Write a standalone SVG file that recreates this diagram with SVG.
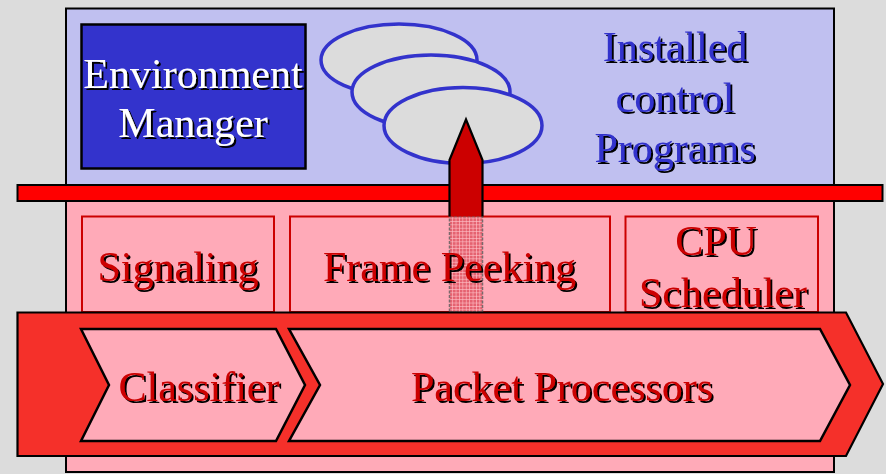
<svg xmlns="http://www.w3.org/2000/svg" width="886" height="474" viewBox="0 0 886 474">
  <style>
    .lbl { font-size: 42px; text-anchor: middle; filter: url(#shadow); }
    .white { fill: #ffffff; }
    .blue { fill: #3333cc; }
    .red { fill: #cc0000; }
    .panel { stroke: #000; stroke-width: 2; }
    .module { fill: #ffaab8; stroke: #cc0000; stroke-width: 2; }
    .stage { fill: #ffaab8; stroke: #000; stroke-width: 2.5; stroke-linejoin: miter; }
    .prog { fill: #dcdcdc; stroke: #3333cc; stroke-width: 3.5; }
  </style>
  <defs>
    <!-- hard black drop shadow behind lettering -->
    <filter id="shadow" x="-10%" y="-20%" width="120%" height="140%">
      <feOffset in="SourceAlpha" dx="1.8" dy="1.8" result="off"/>
      <feFlood flood-color="#000"/>
      <feComposite in2="off" operator="in" result="sh"/>
      <feMerge>
        <feMergeNode in="sh"/>
        <feMergeNode in="SourceGraphic"/>
      </feMerge>
    </filter>
    <pattern id="grid" width="3.4" height="3.4" patternUnits="userSpaceOnUse">
      <rect width="3.4" height="3.4" fill="#e05563"/>
      <path d="M0 0.3H3.4M0.3 0V3.4" stroke="#ffc6cc" stroke-width="0.7"/>
    </pattern>
  </defs>

  <!-- backdrop -->
  <rect width="886" height="474" fill="#dcdcdc"/>

  <!-- control layer -->
  <g id="control-layer">
    <rect x="66" y="8.5" width="768" height="177" fill="#c0c0f0" class="panel"/>
  </g>

  <!-- data layer -->
  <g id="data-layer">
    <rect x="66" y="200" width="768" height="272" fill="#ffaab8" class="panel"/>
  </g>

  <!-- interface bar between layers -->
  <g id="interface-bar">
    <rect x="17.5" y="185" width="865" height="16" fill="#ff0000" stroke="#000" stroke-width="2"/>
  </g>

  <!-- environment manager -->
  <g id="environment-manager">
    <rect x="81.5" y="24.5" width="224" height="144" fill="#3333cc" stroke="#000" stroke-width="2.5"/>
    <text class="lbl white" x="193" y="88" style="font-family: 'Liberation Serif', serif">Environment</text>
    <text class="lbl white" x="193" y="137" style="font-family: 'Liberation Serif', serif">Manager</text>
  </g>

  <!-- installed control programs -->
  <g id="programs">
    <ellipse class="prog" cx="399" cy="60" rx="78" ry="36"/>
    <ellipse class="prog" cx="431" cy="92" rx="79" ry="37"/>
    <ellipse class="prog" cx="463" cy="125.5" rx="79" ry="38"/>
  </g>

  <g id="programs-label">
    <text class="lbl blue" x="675" y="61" style="font-family: 'Liberation Serif', serif">Installed</text>
    <text class="lbl blue" x="675" y="112" style="font-family: 'Liberation Serif', serif">control</text>
    <text class="lbl blue" x="675" y="162" style="font-family: 'Liberation Serif', serif">Programs</text>
  </g>

  <!-- module boxes -->
  <g id="signaling">
    <rect class="module" x="82" y="216.5" width="192" height="95.5"/>
  </g>
  <g id="frame-peeking">
    <rect class="module" x="290" y="216.5" width="320" height="95.5"/>
  </g>
  <g id="cpu-scheduler">
    <rect class="module" x="625.5" y="216.5" width="192.5" height="95.5"/>
  </g>

  <!-- peek path from the data layer up to the programs -->
  <g id="connectors">
    <rect x="449.5" y="216.5" width="33" height="95.5" fill="url(#grid)" fill-opacity="0.85" stroke="#7a6a6c" stroke-width="1.5" stroke-dasharray="3 1.5"/>
    <path d="M449.5 216.5V160L466 119.5L482.5 160V216.5" fill="#cc0000" stroke="#000" stroke-width="2.2" stroke-linejoin="miter"/>
  </g>

  <!-- module labels -->
  <g id="module-labels">
    <text class="lbl red" x="178" y="281" style="font-family: 'Liberation Serif', serif">Signaling</text>
    <text class="lbl red" x="449.5" y="281" style="font-family: 'Liberation Serif', serif">Frame Peeking</text>
    <text class="lbl red" x="716" y="255" style="font-family: 'Liberation Serif', serif">CPU</text>
    <text class="lbl red" x="723" y="307" style="font-family: 'Liberation Serif', serif">Scheduler</text>
  </g>

  <!-- packet pipeline -->
  <g id="pipeline">
    <path d="M17.5 312.5H846L883 384L846 456H17.5Z" fill="#f5302a" stroke="#000" stroke-width="2.2"/>
  </g>

  <g id="classifier">
    <path class="stage" d="M81 329H276L305 385L276 441H81L109 385Z"/>
    <text class="lbl red" x="199" y="401" style="font-family: 'Liberation Serif', serif">Classifier</text>
  </g>

  <g id="packet-processors">
    <path class="stage" d="M289 329H820L850 385L820 441H289L320 385Z"/>
    <text class="lbl red" x="562" y="401" style="font-family: 'Liberation Serif', serif">Packet Processors</text>
  </g>
</svg>
